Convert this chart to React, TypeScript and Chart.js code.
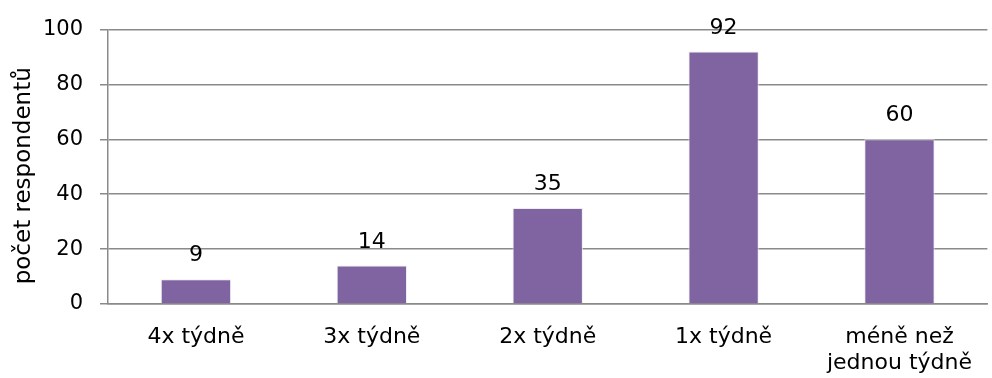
import React, { useEffect, useRef } from "react";
import { Chart, registerables } from "chart.js";

Chart.register(...registerables);

// Frequency of visits, number of respondents per answer
const categories: (string | string[])[] = [
  "4x týdně",
  "3x týdně",
  "2x týdně",
  "1x týdně",
  ["méně než", "jednou týdně"],
];
const respondents: number[] = [9, 14, 35, 92, 60];
const yTicks: number[] = [0, 20, 40, 60, 80, 100];
const yTitle = "počet respondentů";

const FONT = "'DejaVu Sans', 'Liberation Sans', Arial, sans-serif";
const GRID = "#8a8a8a";
const BAR = "#8064A2";

// Draws the value of each bar just above it
const valueLabels = {
  id: "valueLabels",
  afterDatasetsDraw(chart: Chart) {
    const ctx = chart.ctx;
    const meta = chart.getDatasetMeta(0);
    const data = chart.data.datasets[0].data as number[];
    ctx.save();
    ctx.font = `22px ${FONT}`;
    ctx.fillStyle = "#000000";
    ctx.textAlign = "center";
    ctx.textBaseline = "alphabetic";
    meta.data.forEach((el: any, i: number) => {
      ctx.fillText(String(data[i]), el.x, el.y - 18);
    });
    ctx.restore();
  },
};

// Vertical axis title, drawn slightly below the axis middle
const axisTitle = {
  id: "axisTitle",
  afterDraw(chart: Chart) {
    const ctx = chart.ctx;
    const { top, bottom } = chart.chartArea;
    ctx.save();
    ctx.font = `23px ${FONT}`;
    ctx.fillStyle = "#000000";
    ctx.textAlign = "center";
    ctx.textBaseline = "middle";
    ctx.translate(24, (top + bottom) / 2 + 9);
    ctx.rotate(-Math.PI / 2);
    ctx.fillText(yTitle, 0, 0);
    ctx.restore();
  },
};

export default function App() {
  const canvasRef = useRef<HTMLCanvasElement | null>(null);

  useEffect(() => {
    document.body.style.margin = "0";
    const canvas = canvasRef.current;
    if (!canvas) return;
    const chart = new Chart(canvas, {
      type: "bar",
      data: {
        labels: categories,
        datasets: [
          {
            data: respondents,
            backgroundColor: BAR,
            borderColor: "rgba(235,235,235,0.9)",
            borderWidth: 1,
            barPercentage: 0.4,
            categoryPercentage: 1,
          },
        ],
      },
      options: {
        animation: false,
        responsive: false,
        maintainAspectRatio: false,
        layout: { padding: { top: 17, right: 0, bottom: 0, left: 0 } },
        plugins: {
          legend: { display: false },
          tooltip: { enabled: false },
          title: { display: false },
        },
        scales: {
          x: {
            afterFit: (scale: any) => {
              scale.height = 74;
            },
            grid: { display: false, drawTicks: false },
            border: { display: true, color: GRID, width: 1.5 },
            ticks: {
              color: "#000000",
              font: { family: FONT, size: 22, lineHeight: 1.2 },
              padding: 20,
              maxRotation: 0,
              autoSkip: false,
            },
          },
          y: {
            min: 0,
            max: 100,
            afterBuildTicks: (scale: any) => {
              scale.ticks = yTicks.map((v) => ({ value: v }));
            },
            afterFit: (scale: any) => {
              scale.width = 108;
            },
            grid: {
              color: GRID,
              lineWidth: 1.5,
              drawTicks: true,
              tickLength: 8,
            },
            border: { display: true, color: GRID, width: 1.5 },
            ticks: {
              color: "#000000",
              font: { family: FONT, size: 21 },
              padding: 17,
            },
            title: { display: false },
          },
        },
      },
      plugins: [valueLabels, axisTitle],
    });
    return () => chart.destroy();
  }, []);

  return (
    <div style={{ position: "absolute", left: 0, top: 0, width: 992, height: 378 }}>
      <canvas ref={canvasRef} width={992} height={378} />
    </div>
  );
}
